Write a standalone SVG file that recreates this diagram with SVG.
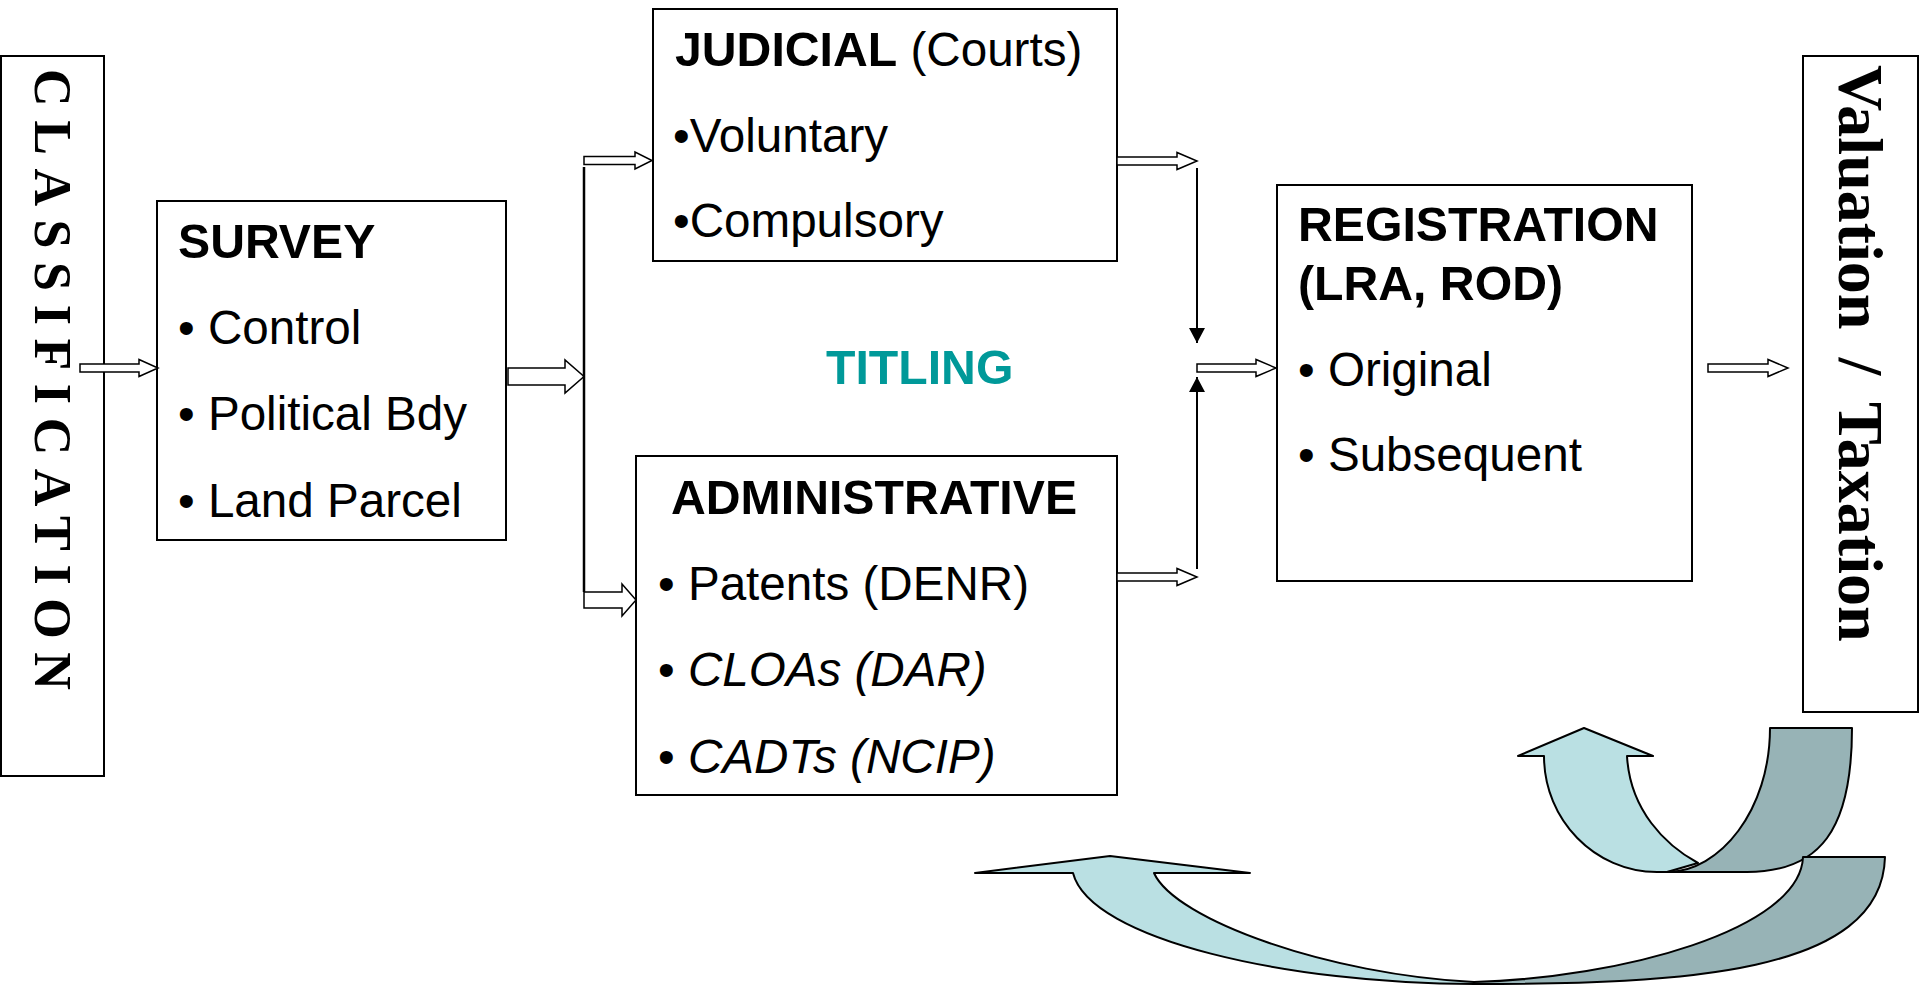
<svg xmlns="http://www.w3.org/2000/svg" width="1920" height="985" viewBox="0 0 1920 985">
<style>
.box{fill:#fff;stroke:#000;stroke-width:2}
.t{font-family:"Liberation Sans",Arial,sans-serif;font-size:47.6px;fill:#000}
.b{font-weight:bold;font-size:48.2px}
.i{font-style:italic}
.serif{font-family:"Liberation Serif","Times New Roman",serif;font-weight:bold;fill:#000}
.ha{fill:#fff;stroke:#000;stroke-width:1.5;stroke-linejoin:miter}
.ln{stroke:#000;stroke-width:2.5;fill:none}
.light{fill:#BAE0E3;stroke:#000;stroke-width:2;stroke-linejoin:round}
.dark{fill:#97B3B6;stroke:#000;stroke-width:2;stroke-linejoin:round}
</style>
<defs>
<marker id="tri" viewBox="0 0 15 16" refX="15" refY="8" markerWidth="15" markerHeight="16" markerUnits="userSpaceOnUse" orient="auto">
<path d="M0,0 L15,8 L0,16 Z" fill="#000"/>
</marker>
</defs>
<rect width="1920" height="985" fill="#fff"/>

<g id="classification">
<rect class="box" x="1" y="56" width="103" height="720"/>
<text class="serif" font-size="52" letter-spacing="13.6" transform="translate(35,69) rotate(90)">CLASSIFICATION</text>
</g>

<g id="survey">
<rect class="box" x="157" y="201" width="349" height="339"/>
<text class="t b" x="178" y="258">SURVEY</text>
<text class="t" x="178" y="344">• Control</text>
<text class="t" x="178" y="430">• Political Bdy</text>
<text class="t" x="178" y="517">• Land Parcel</text>
</g>

<g id="judicial">
<rect class="box" x="653" y="9" width="464" height="252"/>
<text class="t" x="675" y="66"><tspan class="b">JUDICIAL</tspan> (Courts)</text>
<text class="t" x="673" y="152">•Voluntary</text>
<text class="t" x="673" y="237">•Compulsory</text>
</g>

<g id="titling">
<text class="t b" x="826" y="384" style="fill:#009999">TITLING</text>
</g>

<g id="administrative">
<rect class="box" x="636" y="456" width="481" height="339"/>
<text class="t b" x="671" y="514">ADMINISTRATIVE</text>
<text class="t" x="658" y="600">• Patents (DENR)</text>
<text class="t" x="658" y="686">• <tspan class="i">CLOAs (DAR)</tspan></text>
<text class="t" x="658" y="773">• <tspan class="i">CADTs (NCIP)</tspan></text>
</g>

<g id="registration">
<rect class="box" x="1277" y="185" width="415" height="396"/>
<text class="t b" x="1298" y="241">REGISTRATION</text>
<text class="t b" x="1298" y="300">(LRA, ROD)</text>
<text class="t" x="1298" y="386">• Original</text>
<text class="t" x="1298" y="471">• Subsequent</text>
</g>

<g id="valuation">
<rect class="box" x="1803" y="56" width="115" height="656"/>
<text class="serif" font-size="64" word-spacing="12" transform="translate(1839,65) rotate(90)">Valuation / Taxation</text>
</g>

<g id="connectors">
<polygon class="ha" points="80,364 139,364 139,359.5 158,368 139,376.5 139,372 80,372"/>
<polygon class="ha" points="508,368 565,368 565,360 584,376.5 565,393 565,385 508,385"/>
<line class="ln" x1="584" y1="167" x2="584" y2="592"/>
<polygon class="ha" points="584,156.5 635,156.5 635,152 652,160.5 635,169 635,164.5 584,164.5"/>
<polygon class="ha" points="584,592 622,592 622,584 636,600 622,616 622,608 584,608"/>
<polygon class="ha" points="1117,157 1177,157 1177,152.5 1197,161 1177,169.5 1177,165 1117,165"/>
<polygon class="ha" points="1117,573 1177,573 1177,568.5 1197,577 1177,585.5 1177,581 1117,581"/>
<line class="ln" x1="1197" y1="168" x2="1197" y2="343" style="stroke-width:2" marker-end="url(#tri)"/>
<line class="ln" x1="1197" y1="569" x2="1197" y2="377" style="stroke-width:2" marker-end="url(#tri)"/>
<polygon class="ha" points="1197,364 1256,364 1256,359.5 1276,368 1256,376.5 1256,372 1197,372"/>
<polygon class="ha" points="1708,364 1768,364 1768,359.5 1788,368 1768,376.5 1768,372 1708,372"/>
</g>

<g id="cycle-arrows">
<path class="light" d="M1518,756 L1584,728 L1653,756 L1627,756 C1630,810 1665,845 1698,863 L1667,872 L1657,872 C1595,872 1544,820 1544,756 Z"/>
<path class="dark" d="M1770,728 L1852,728 C1852,830 1820,872 1747,872 L1667,872 C1720,872 1770,810 1770,728 Z"/>
<path class="light" d="M975,873 L1110,856 L1250,873 L1154,873 C1175,920 1330,975 1474,982 L1474,984 C1290,984 1090,940 1073,873 Z"/>
<path class="dark" d="M1803,857 L1885,857 C1882,975 1680,984 1474,984 L1474,982 C1620,978 1800,930 1803,857 Z"/>
</g>
</svg>
